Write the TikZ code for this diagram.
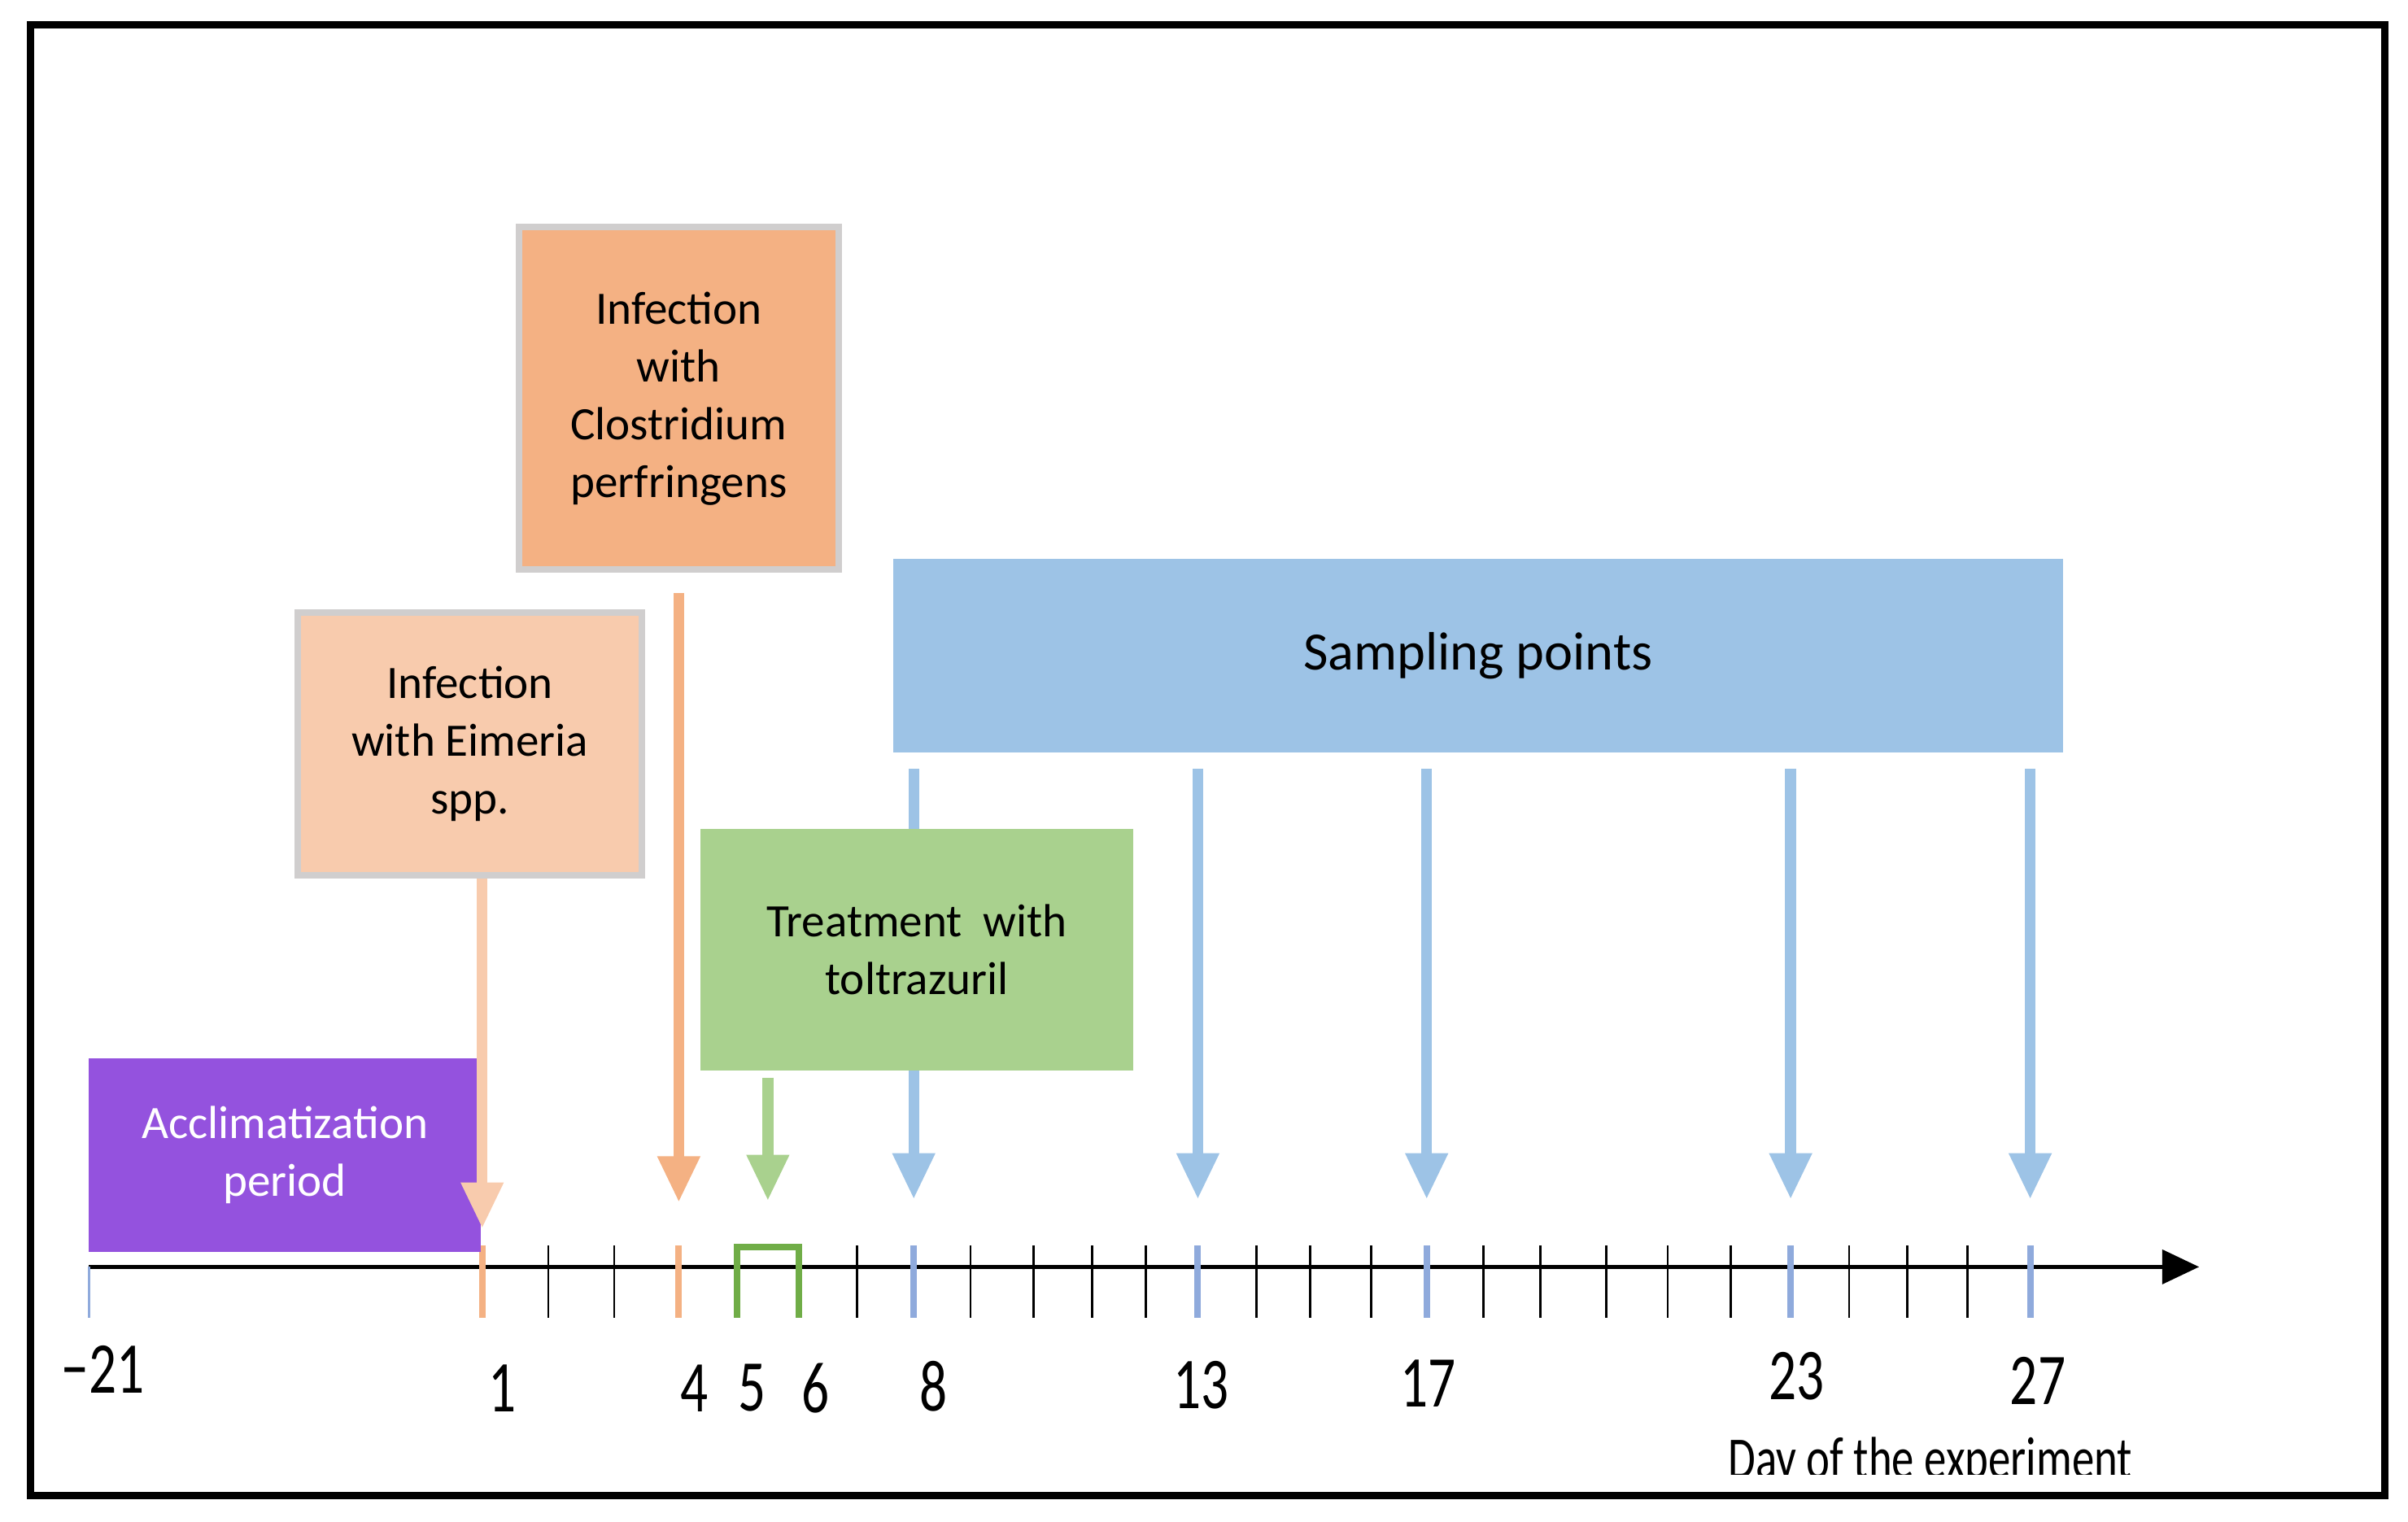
\documentclass[tikz,border=0pt]{standalone}
\usepackage{fontspec}
\setmainfont{Carlito}
\newfontfamily\narrowfont[FakeStretch=0.75]{Carlito}
\usetikzlibrary{arrows.meta,calc}

\definecolor{accpurple}{HTML}{9452DE}
\definecolor{eimpeach}{HTML}{F8CBAD}
\definecolor{clostorange}{HTML}{F4B183}
\definecolor{sampblue}{HTML}{9DC3E6}
\definecolor{tickblue}{HTML}{8FAADC}
\definecolor{treatgreen}{HTML}{A9D18E}
\definecolor{bracketgreen}{HTML}{70AD47}
\definecolor{boxgray}{HTML}{D0CECE}

\tikzset{
  phase/.style={inner sep=0pt, align=center, font=\fontsize{8.6}{10.7}\selectfont},
  framed/.style={phase, draw=boxgray, line width=1.2pt},
  pointer/.style={line width=2pt, -{Triangle[width=0.26cm,length=0.3cm]}},
  daytick/.style={line width=0.4pt},
  marktick/.style={line width=1.2pt},
  daylabel/.style={font=\narrowfont\fontsize{13.5}{15}\selectfont}
}

\begin{document}
\begin{tikzpicture}[x=0.01cm,y=-0.01cm]
\useasboundingbox (0,0) rectangle (1568,991);
\draw[line width=1.3pt] (20,16) rectangle (1553,974);

% time axis, one coordinate per day
\coordinate (dstart) at (58,825);
\foreach \d/\x in {1/314,2/357,3/400,4/442,5/480,6/520,7/558,8/595,9/632,
    10/673,11/711,12/746,13/780,14/818,15/853,16/893,17/929,18/966,19/1003,
    20/1046,21/1086,22/1127,23/1166,24/1204,25/1242,26/1281,27/1322}
  \coordinate (d\d) at (\x,825);
\coordinate (axend) at (1432,825);
\coordinate (d56) at ($(d5)!0.5!(d6)$);

\draw[line width=0.8pt,-{Triangle[width=0.22cm,length=0.24cm]}] (dstart) -- (axend);
\draw[daytick,tickblue] (dstart) -- ++(0,33);
\foreach \d in {2,3,7,9,10,11,12,14,15,16,18,19,20,21,22,24,25,26}
  \draw[daytick] ($(d\d)+(0,-14)$) -- ($(d\d)+(0,33)$);
\foreach \d/\c in {1/clostorange,4/clostorange,8/tickblue,13/tickblue,
    17/tickblue,23/tickblue,27/tickblue}
  \draw[marktick,\c] ($(d\d)+(0,-14)$) -- ($(d\d)+(0,33)$);
\draw[marktick,bracketgreen] ($(d5)+(0,33)$) |- ($(d6)+(0,-13)$) -- ($(d6)+(0,33)$);

% day numbers
\node[daylabel] (labstart) at (67,892) {−21};
\foreach \d/\x/\y in {1/327/904,4/452/904,5/490/904,6/531/904,8/608/903,
    13/782/902,17/930/901,23/1170/896,27/1327/899}
  \node[daylabel] (lab\d) at (\x,\y) {\d};
\begin{scope}
  \clip (1100,925) rectangle (1420,960);
  \node[font=\narrowfont\fontsize{11}{12}\selectfont,anchor=base] (daytitle) at (1257,963) {Day of the experiment};
\end{scope}

% phases
\node[phase,fill=accpurple,text=white,minimum width=2.55cm,minimum height=1.26cm] (accl) at (185.5,752) {Acclimatization\\period};
\node[framed,fill=eimpeach,minimum width=2.24cm,minimum height=1.71cm] (eim) at (306,484.5) {Infection\\with Eimeria\\spp.};
\node[framed,fill=clostorange,minimum width=2.08cm,minimum height=2.23cm] (clos) at (442,259.5) {Infection\\with\\Clostridium\\perfringens};
\node[phase,fill=sampblue,minimum width=7.61cm,minimum height=1.26cm,font=\fontsize{10}{12}\selectfont] (samp) at (962.5,427) {\raisebox{-0.06cm}{Sampling points}};

\draw[pointer,eimpeach] (eim.south -| d1) -- ($(d1)+(0,-25)$);
\draw[pointer,clostorange] ($(clos.south -| d4)+(0,13)$) -- ($(d4)+(0,-42)$);
\foreach \d in {8,13,17,23,27}
  \draw[pointer,sampblue] ($(samp.south -| d\d)+(0,10)$) -- ($(d\d)+(0,-44)$);

\node[phase,fill=treatgreen,minimum width=2.82cm,minimum height=1.57cm] (treat) at (597,618.5) {Treatment~ with\\toltrazuril};
\draw[pointer,treatgreen] ($(treat.south -| d56)+(0,4)$) -- ($(d56)+(0,-43)$);
\end{tikzpicture}
\end{document}
